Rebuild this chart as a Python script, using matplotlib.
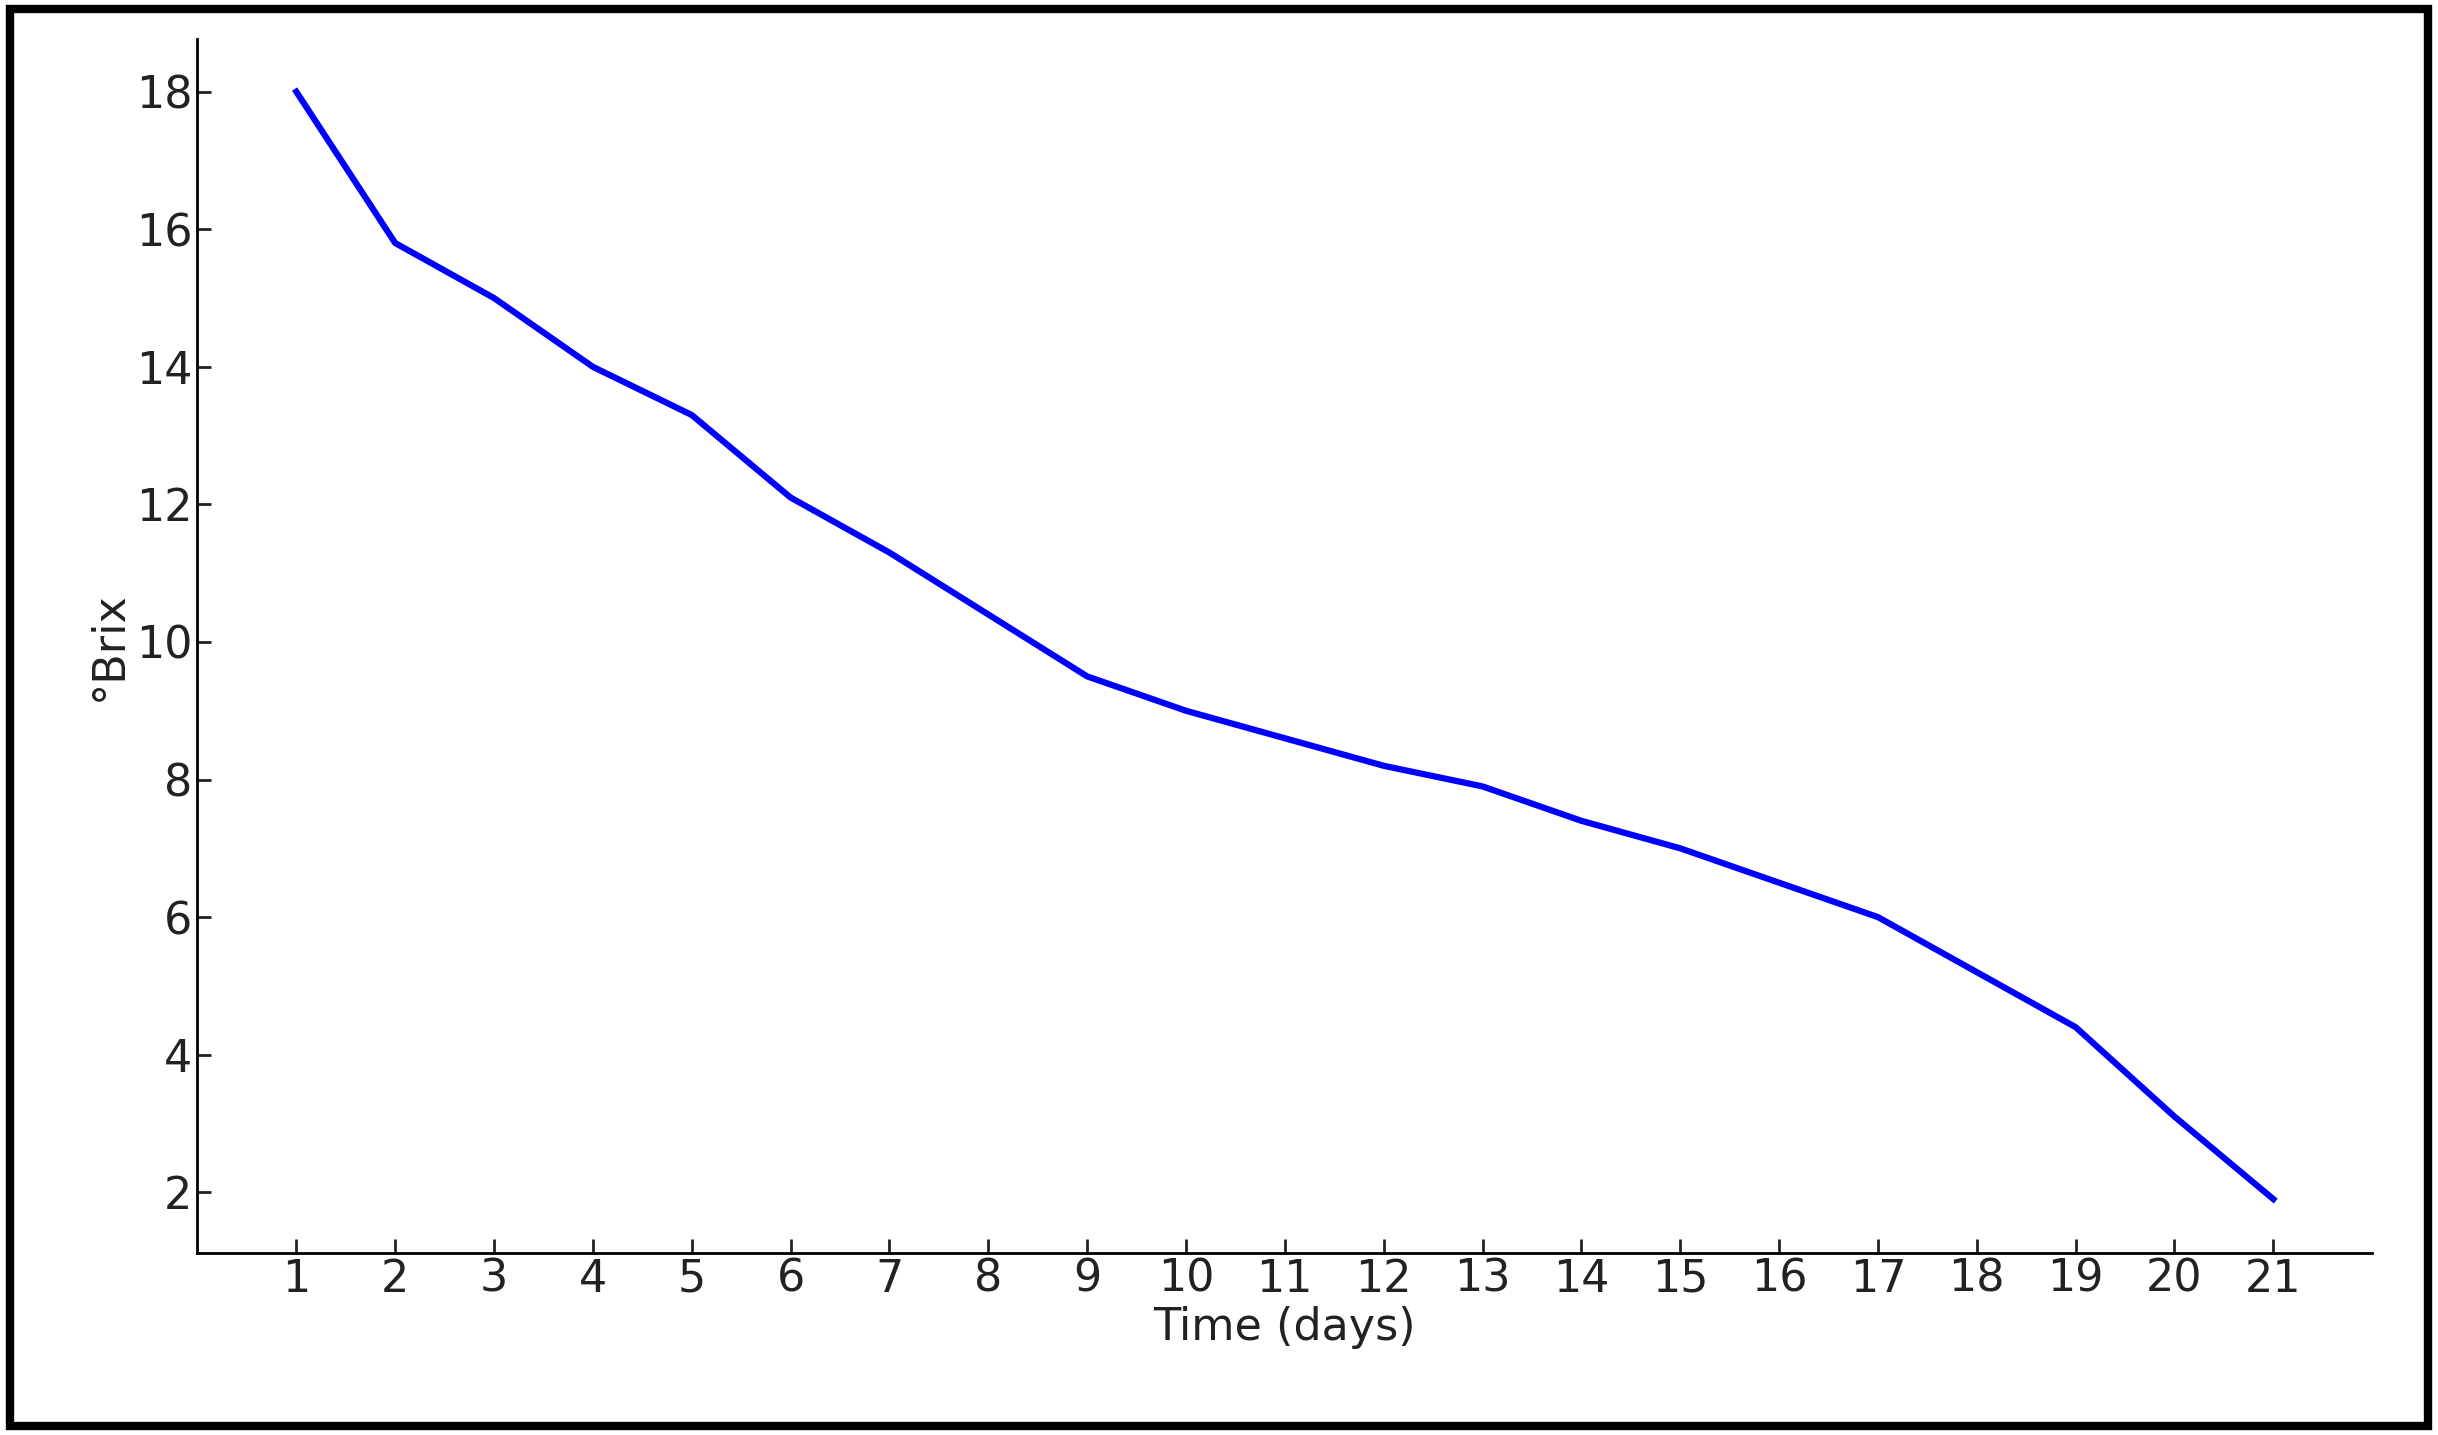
import matplotlib
matplotlib.use("Agg")
import matplotlib.pyplot as plt
from matplotlib.patches import Rectangle

days = list(range(1, 22))
brix = [18.0, 15.8, 15.0, 14.0, 13.3, 12.1, 11.3, 10.4, 9.5, 9.0, 8.6, 8.2, 7.9, 7.4, 7.0, 6.5, 6.0, 5.2, 4.4, 3.1, 1.9]

fig = plt.figure(figsize=(24.38, 14.35), dpi=100)
ax = fig.add_axes([0.081, 0.127, 0.892, 0.846])
ax.plot(days, brix, color="blue", lw=4.5)
ax.set_xlim(0, 22)
ax.set_ylim(1.12, 18.77)
ax.set_xticks(days)
ax.set_yticks(range(2, 19, 2))
ax.spines["top"].set_visible(False)
ax.spines["right"].set_visible(False)
for s in ax.spines.values():
    s.set_linewidth(2)
ax.tick_params(direction="in", labelsize=32, length=10, width=2, colors="#222222")
ax.set_xlabel("Time (days)", fontsize=32, color="#222222")
ax.set_ylabel("°Brix", fontsize=32, color="#222222")
fig.patches.append(Rectangle((0.004, 0.006), 0.992, 0.988, transform=fig.transFigure,
                             fill=False, edgecolor="black", lw=6))
fig.savefig("out.png", dpi=100, facecolor="white")
